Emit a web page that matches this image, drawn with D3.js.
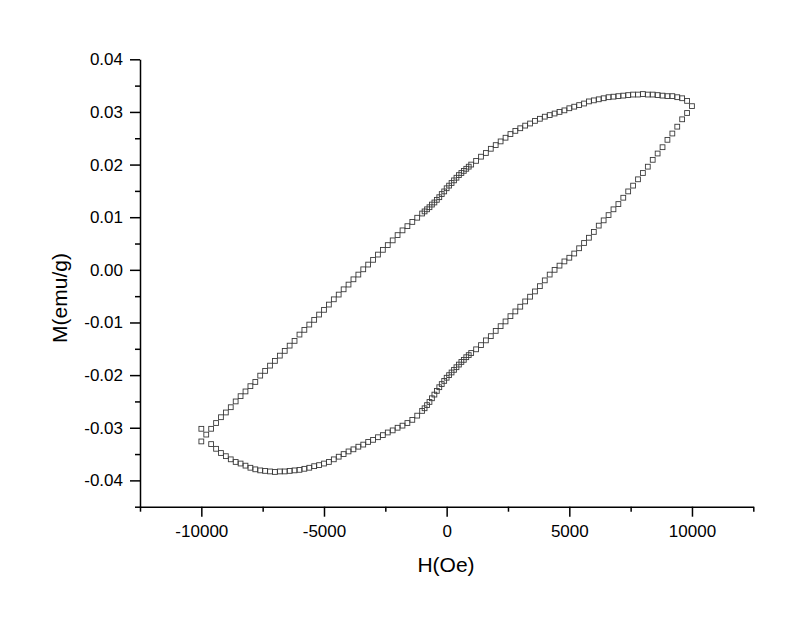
<!DOCTYPE html>
<html>
<head>
<meta charset="utf-8">
<script src="https://cdn.jsdelivr.net/npm/d3@7"></script>
<style>
  html, body { margin: 0; padding: 0; background: #fff; }
  svg { display: block; }
  text { font-family: "Liberation Sans", Arial, sans-serif; fill: #000; }
</style>
</head>
<body>
<div id="chart"></div>
<script>
// ---- Data ----
// Branch A: rising branch (left tip -> upper curve -> right tip)
const fieldA = [
  -10000, -9800, -9600, -9400, -9200, -9000, -8800, -8600, -8400, -8200,
  -8000, -7800, -7600, -7400, -7200, -7000, -6800, -6600, -6400, -6200,
  -6000, -5800, -5600, -5400, -5200, -5000, -4800, -4600, -4400, -4200,
  -4000, -3800, -3600, -3400, -3200, -3000, -2800, -2600, -2400, -2200,
  -2000, -1800, -1600, -1400, -1200, -1000,
  -900, -800, -700, -600, -500, -400, -300, -200, -100, 0,
  100, 200, 300, 400, 500, 600, 700, 800, 900, 1000,
  1200, 1400, 1600, 1800, 2000, 2200, 2400, 2600, 2800, 3000,
  3200, 3400, 3600, 3800, 4000, 4200, 4400, 4600, 4800, 5000,
  5200, 5400, 5600, 5800, 6000, 6200, 6400, 6600, 6800, 7000,
  7200, 7400, 7600, 7800, 8000, 8200, 8400, 8600, 8800, 9000,
  9200, 9400, 9600, 9800, 10000
];
const momentA = [
  -0.0326, -0.0313, -0.0302, -0.0291, -0.0280, -0.0271, -0.0261, -0.0250, -0.0240, -0.0231,
  -0.0221, -0.0213, -0.0201, -0.0192, -0.0182, -0.0173, -0.0163, -0.0154, -0.0144, -0.0135,
  -0.0123, -0.0114, -0.0104, -0.0095, -0.0085, -0.0076, -0.0066, -0.0056, -0.0047, -0.0037,
  -0.0028, -0.0018, -0.0009, 0.0001, 0.0010, 0.0019, 0.0029, 0.0038, 0.0047, 0.0056,
  0.0066, 0.0075, 0.0083, 0.0091, 0.0099, 0.0107,
  0.0111, 0.0115, 0.0119, 0.0124, 0.0128, 0.0133, 0.0138, 0.0144, 0.0149, 0.0155,
  0.0160, 0.0165, 0.0170, 0.0175, 0.0180, 0.0184, 0.0188, 0.0192, 0.0196, 0.0200,
  0.0207, 0.0215, 0.0222, 0.0230, 0.0237, 0.0244, 0.0251, 0.0258, 0.0264, 0.0269,
  0.0274, 0.0278, 0.0283, 0.0287, 0.0291, 0.0294, 0.0297, 0.0300, 0.0303, 0.0307,
  0.0310, 0.0313, 0.0316, 0.0320, 0.0322, 0.0324, 0.0326, 0.0328, 0.0329, 0.0330,
  0.0331, 0.0332, 0.0333, 0.0333, 0.0334, 0.0333, 0.0333, 0.0332, 0.0331, 0.0330,
  0.0330, 0.0328, 0.0326, 0.0321, 0.0311
];
// Branch B: returning branch (right tip -> lower curve -> left tip)
const fieldB = [
  9800, 9600, 9400, 9200, 9000, 8800, 8600, 8400, 8200, 8000,
  7800, 7600, 7400, 7200, 7000, 6800, 6600, 6400, 6200, 6000,
  5800, 5600, 5400, 5200, 5000, 4800, 4600, 4400, 4200, 4000,
  3800, 3600, 3400, 3200, 3000, 2800, 2600, 2400, 2200, 2000,
  1800, 1600, 1400, 1200, 1000,
  900, 800, 700, 600, 500, 400, 300, 200, 100, 0,
  -100, -200, -300, -400, -500, -600, -700, -800, -900, -1000,
  -1200, -1400, -1600, -1800, -2000, -2200, -2400, -2600, -2800, -3000,
  -3200, -3400, -3600, -3800, -4000, -4200, -4400, -4600, -4800, -5000,
  -5200, -5400, -5600, -5800, -6000, -6200, -6400, -6600, -6800, -7000,
  -7200, -7400, -7600, -7800, -8000, -8200, -8400, -8600, -8800, -9000,
  -9200, -9400, -9600, -10000
];
const momentB = [
  0.0298, 0.0286, 0.0272, 0.0259, 0.0247, 0.0233, 0.0221, 0.0209, 0.0196, 0.0184,
  0.0172, 0.0160, 0.0149, 0.0137, 0.0125, 0.0115, 0.0104, 0.0094, 0.0084, 0.0072,
  0.0061, 0.0051, 0.0041, 0.0031, 0.0023, 0.0016, 0.0008, 0.0000, -0.0009, -0.0020,
  -0.0031, -0.0041, -0.0051, -0.0060, -0.0070, -0.0079, -0.0088, -0.0098, -0.0107, -0.0116,
  -0.0126, -0.0134, -0.0143, -0.0151, -0.0158,
  -0.0162, -0.0166, -0.0171, -0.0175, -0.0180, -0.0185, -0.0190, -0.0195, -0.0200, -0.0205,
  -0.0211, -0.0217, -0.0223, -0.0230, -0.0237, -0.0244, -0.0251, -0.0257, -0.0263, -0.0268,
  -0.0277, -0.0285, -0.0291, -0.0296, -0.0300, -0.0305, -0.0309, -0.0314, -0.0318, -0.0323,
  -0.0327, -0.0332, -0.0336, -0.0341, -0.0345, -0.0350, -0.0355, -0.0360, -0.0365, -0.0368,
  -0.0371, -0.0373, -0.0376, -0.0378, -0.0380, -0.0381, -0.0382, -0.0383, -0.0383, -0.0384,
  -0.0383, -0.0382, -0.0381, -0.0379, -0.0376, -0.0372, -0.0368, -0.0365, -0.0360, -0.0354,
  -0.0348, -0.0340, -0.0331, -0.0302
];

const xMajorTicks = [-10000, -5000, 0, 5000, 10000];
const xMinorTicks = [-12500, -7500, -2500, 2500, 7500, 12500];
const yMajorTicks = [-0.04, -0.03, -0.02, -0.01, 0.00, 0.01, 0.02, 0.03, 0.04];
const yMinorTicks = [-0.045, -0.035, -0.025, -0.015, -0.005, 0.005, 0.015, 0.025, 0.035];
const xTitle = "H(Oe)";
const yTitle = "M(emu/g)";

// ---- Drawing ----
const W = 800, H = 624;
const svg = d3.select("#chart").append("svg").attr("width", W).attr("height", H);
svg.append("rect").attr("width", W).attr("height", H).attr("fill", "#fff");

const x = d3.scaleLinear().domain([-12500, 12500]).range([140, 753.3]);
const y = d3.scaleLinear().domain([-0.045, 0.04]).range([506.7, 59.3]);

const fmtX = d => String(d);
const fmtY = d => (Math.abs(d) < 1e-9 ? "0.00" : d.toFixed(2));

function styleAxis(g) {
  g.selectAll("path.domain").attr("stroke", "#000").attr("stroke-width", 1.5);
  g.selectAll(".tick line").attr("stroke", "#000").attr("stroke-width", 1.5);
  g.selectAll(".tick text")
    .attr("font-family", '"Liberation Sans", Arial, sans-serif')
    .attr("font-size", 17).attr("fill", "#000");
}

// X axis
const gx = svg.append("g").attr("transform", `translate(0,${y.range()[0]})`)
  .call(d3.axisBottom(x).tickValues(xMajorTicks).tickSize(10).tickSizeOuter(0)
    .tickPadding(8).tickFormat(fmtX));
styleAxis(gx);
const gxm = svg.append("g").attr("transform", `translate(0,${y.range()[0]})`)
  .call(d3.axisBottom(x).tickValues(xMinorTicks).tickSize(5).tickSizeOuter(0).tickFormat(""));
gxm.select("path.domain").remove();
styleAxis(gxm);

// Y axis
const gy = svg.append("g").attr("transform", `translate(${x.range()[0]},0)`)
  .call(d3.axisLeft(y).tickValues(yMajorTicks).tickSize(10).tickSizeOuter(0)
    .tickPadding(7).tickFormat(fmtY));
styleAxis(gy);
const gym = svg.append("g").attr("transform", `translate(${x.range()[0]},0)`)
  .call(d3.axisLeft(y).tickValues(yMinorTicks).tickSize(5).tickSizeOuter(0).tickFormat(""));
gym.select("path.domain").remove();
styleAxis(gym);

// Titles
svg.append("text").attr("x", 446).attr("y", 572).attr("text-anchor", "middle")
  .attr("font-size", 21).text(xTitle);
svg.append("text").attr("transform", "translate(67,298) rotate(-90)")
  .attr("text-anchor", "middle").attr("font-size", 21).text(yTitle);

// Markers: open squares
const pts = fieldA.map((h, i) => ({ h, m: momentA[i] }))
  .concat(fieldB.map((h, i) => ({ h, m: momentB[i] })));
const s = 4.8;
svg.append("g").selectAll("rect.pt").data(pts).join("rect")
  .attr("class", "pt")
  .attr("x", d => x(d.h) - s / 2)
  .attr("y", d => y(d.m) - s / 2)
  .attr("width", s).attr("height", s)
  .attr("fill", "none")
  .attr("stroke", "#3a3a3a")
  .attr("stroke-width", 0.9);
</script>
</body>
</html>
